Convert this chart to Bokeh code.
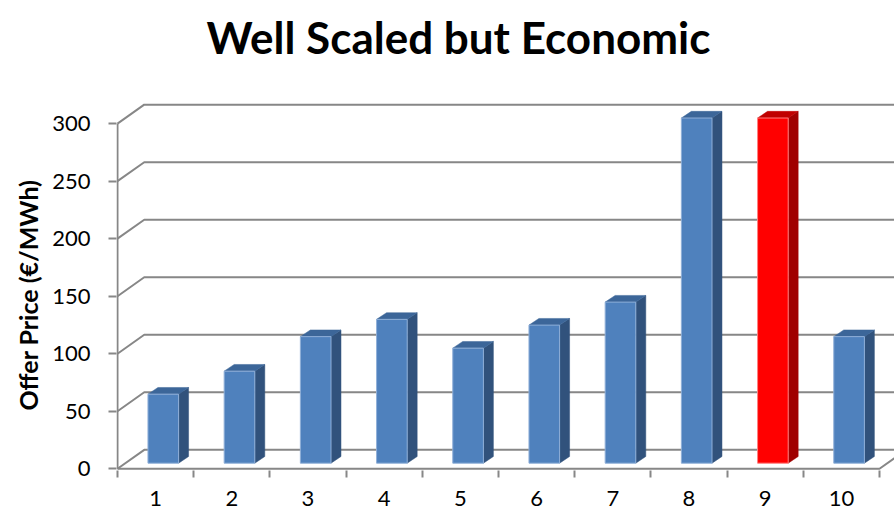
import numpy as np
from bokeh.plotting import figure
from bokeh.models import FixedTicker, Range1d, ColumnDataSource, Title
from bokeh.embed import file_html
from bokeh.resources import INLINE

# ---- data ----
categories = [1, 2, 3, 4, 5, 6, 7, 8, 9, 10]
offer_price = [60, 80, 110, 125, 100, 120, 140, 300, 300, 110]
highlight = [False, False, False, False, False, False, False, False, True, False]
y_ticks = [0, 50, 100, 150, 200, 250, 300]
title_text = "Well Scaled but Economic"
y_label = "Offer Price (€/MWh)"

# ---- 3D oblique geometry (in data units) ----
DX, DY = 0.351, 16.47          # back wall offset
FX0, FY0 = 0.101, 4.86         # bar front-face offset
BDX, BDY = 0.131, 5.8          # bar depth
W2 = 0.201                     # half bar width
GRID = "#878787"

p = figure(width=894, height=512, output_backend="svg", toolbar_location=None,
           x_range=Range1d(0.487, 10.697), y_range=Range1d(-1.5, 345.3),
           min_border_left=116, min_border_right=0, min_border_top=70,
           min_border_bottom=42, outline_line_color=None)
p.grid.visible = False

# title
p.title.text = title_text
p.title.text_font = "Lato"
p.title.text_font_style = "bold"
p.title.text_font_size = "44px"
p.title.text_line_height = 1.0
p.title.align = "left"
p.title.offset = 90
p.title.standoff = 17
p.title.text_color = "black"

# side wall + back wall gridlines
x0 = 0.5
xs_grid, ys_grid = [], []
for v in y_ticks:
    xs_grid.append([x0, x0 + DX, 12.0])
    ys_grid.append([v, v + DY, v + DY])
p.multi_line(xs_grid, ys_grid, line_color=GRID, line_width=2)

# bars
cats = np.array(categories, dtype=float)
vals = np.array(offer_price, dtype=float)
xc = cats + FX0
left, right = xc - W2, xc + W2
bottom = np.full_like(vals, FY0)
top = vals + FY0

front_col = ["#FF0000" if h else "#4F81BD" for h in highlight]
side_col = ["#A00000" if h else "#31527C" for h in highlight]
top_col = ["#C00000" if h else "#3C6699" for h in highlight]
edge_col = ["#FF8080" if h else "#8FAFD8" for h in highlight]

side_xs = [[r, r + BDX, r + BDX, r] for r in right]
side_ys = [[b, b + BDY, t + BDY, t] for b, t in zip(bottom, top)]
top_xs = [[l, l + BDX, r + BDX, r] for l, r in zip(left, right)]
top_ys = [[t, t + BDY, t + BDY, t] for t in top]

p.patches(side_xs, side_ys, fill_color=side_col, line_color=side_col, line_width=0.5)
p.patches(top_xs, top_ys, fill_color=top_col, line_color=top_col, line_width=0.5)
src = ColumnDataSource(dict(left=left, right=right, bottom=bottom, top=top,
                            fc=front_col, ec=edge_col))
p.quad(left="left", right="right", bottom="bottom", top="top", source=src,
       fill_color="fc", line_color="ec", line_width=1)

# front floor edge and front value axis line
xend = 10.5
p.line([x0, xend, xend + DX], [0, 0, DY], line_color=GRID, line_width=2)
p.line([x0, x0], [0, 300], line_color=GRID, line_width=2)

# y axis
ya = p.yaxis[0]
ya.ticker = FixedTicker(ticks=y_ticks, minor_ticks=[])
ya.axis_line_color = None
ya.major_tick_in = 0
ya.major_tick_out = 8
ya.major_tick_line_color = GRID
ya.major_tick_line_width = 2
ya.minor_tick_line_color = None
ya.major_label_text_font = "Lato"
ya.major_label_text_font_size = "22px"
ya.major_label_text_color = "black"
ya.major_label_standoff = 18

# vertical value-axis title
yt = Title(text=y_label, align="left", offset=60, standoff=14,
           text_font="Lato", text_font_style="bold", text_font_size="25px",
           text_line_height=0.7, text_color="black")
p.add_layout(yt, "left")

# x axis
xa = p.xaxis[0]
xa.ticker = FixedTicker(ticks=categories, minor_ticks=[c + 0.5 for c in [0] + categories])
xa.axis_line_color = None
xa.major_tick_line_color = None
xa.minor_tick_in = 0
xa.minor_tick_out = 7
xa.minor_tick_line_color = GRID
xa.minor_tick_line_width = 2
xa.major_label_text_font = "Lato"
xa.major_label_text_font_size = "22px"
xa.major_label_text_color = "black"
xa.major_label_standoff = 13

open("out.html", "w").write(file_html(p, INLINE))
